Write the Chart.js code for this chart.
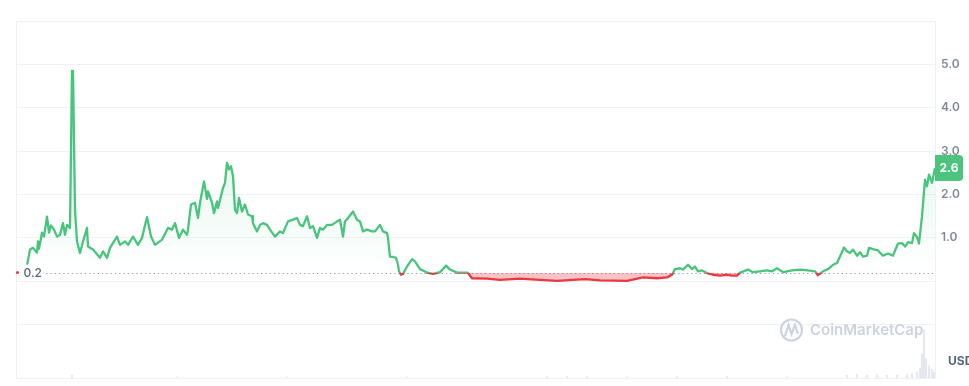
<!DOCTYPE html>
<html>
<head>
<meta charset="utf-8">
<script src="https://cdn.jsdelivr.net/npm/chart.js@4.4.1/dist/chart.umd.min.js"></script>
<style>
  html, body { margin: 0; padding: 0; background: #ffffff; }
  #wrap { position: relative; width: 969px; height: 386px; }
</style>
</head>
<body>
<div id="wrap"><canvas id="c" width="969" height="386"></canvas></div>
<script>
// ---- data ----
const days = [0,3,6,10,11,12,15,17,20,22,24,27,30,33,36,38,40,43,45,46,48,50,53,56,60,61,66,73,76,80,83,90,93,98,101,106,111,115,120,124,128,135,141,145,148,152,156,160,161,164,168,171,173,177,180,181,185,187,190,191,196,198,200,202,204,206,208,210,212,215,218,221,225,226,230,233,236,240,243,248,253,256,261,266,270,273,276,280,283,286,290,293,296,300,305,310,313,316,318,321,326,330,333,336,340,345,348,353,356,360,361,363,366,369,371,372,374,376,380,385,388,393,400,406,413,419,423,430,440,441,445,460,473,493,513,530,558,573,600,616,630,640,645,648,653,656,661,665,668,671,675,680,686,693,700,705,710,713,721,726,733,740,745,750,756,765,773,781,788,791,796,801,806,810,813,817,820,823,826,830,833,836,840,842,846,851,856,861,866,871,875,878,881,885,887,890,892,895,898,900,902,905,908];
const prices = [0.36,0.73,0.77,0.66,0.92,0.75,1.12,1.03,1.49,1.12,1.29,1.19,1.03,1.07,1.34,1.07,1.30,1.23,4.85,4.85,1.65,0.92,0.65,0.92,1.23,0.80,0.73,0.54,0.69,0.54,0.77,1.03,0.84,0.92,0.84,1.03,0.84,1.00,1.48,1.03,0.84,0.96,1.23,1.19,1.34,1.00,1.19,1.07,1.19,1.77,1.81,1.46,1.81,2.30,1.90,2.07,1.81,1.57,1.84,1.69,2.15,2.27,2.73,2.58,2.65,2.42,1.65,1.57,1.92,1.61,1.77,1.54,1.50,1.34,1.15,1.30,1.34,1.30,1.19,1.03,1.15,1.11,1.38,1.42,1.46,1.30,1.27,1.50,1.23,1.27,1.00,1.23,1.19,1.30,1.30,1.38,1.42,1.03,1.38,1.46,1.61,1.42,1.38,1.15,1.19,1.15,1.15,1.30,1.15,1.11,1.00,0.57,0.56,0.54,0.38,0.23,0.15,0.17,0.34,0.51,0.46,0.28,0.20,0.17,0.21,0.36,0.27,0.20,0.20,0.19,0.07,0.06,0.03,0.06,0.03,0.01,0.05,0.02,0.01,0.09,0.07,0.09,0.15,0.28,0.30,0.27,0.38,0.28,0.34,0.23,0.25,0.19,0.15,0.13,0.15,0.13,0.13,0.20,0.27,0.21,0.23,0.25,0.23,0.30,0.21,0.25,0.27,0.25,0.23,0.14,0.23,0.28,0.38,0.42,0.57,0.78,0.69,0.65,0.73,0.59,0.67,0.57,0.59,0.77,0.74,0.71,0.59,0.64,0.59,0.87,0.88,0.80,0.90,0.88,1.11,1.02,0.87,1.50,2.34,2.19,2.46,2.27,2.61];
const volDays = [45,150,260,380,520,540,560,600,650,700,760,820,830,840,850,860,870,880,885,890,893,895,897,899,902,905,907];
const volumes = [6,2,2,2,3,4,3,2,3,3,2,5,8,6,7,5,6,7,9,12,20,50,100,40,25,18,12];
const yTickLabels = ['1.0','2.0','3.0','4.0','5.0'];
const basePrice = 0.2;
const basePriceLabel = '0.2';
const lastPriceLabel = '2.6';
const currency = 'USD';
const watermark = 'CoinMarketCap';

const GREEN = '#48c47c';
const RED = '#ea3943';
const GRID = '#eff2f5';

const pricePoints = days.map((d, i) => ({ x: d, y: prices[i] }));
const volPoints = volDays.map((d, i) => ({ x: d, y: volumes[i] }));

function splitGradient(chart, topColor, midTop, midBottom, bottomColor) {
  const area = chart.chartArea;
  if (!area) return topColor;
  const yb = chart.scales.y.getPixelForValue(basePrice);
  const t = Math.min(1, Math.max(0, (yb - area.top) / (area.bottom - area.top)));
  const g = chart.ctx.createLinearGradient(0, area.top, 0, area.bottom);
  g.addColorStop(0, topColor);
  g.addColorStop(t, midTop);
  g.addColorStop(t, midBottom);
  g.addColorStop(1, bottomColor);
  return g;
}

const decor = {
  id: 'decor',
  beforeDatasetsDraw(chart) {
    const { ctx, chartArea: a } = chart;
    const y = chart.scales.y;
    ctx.save();
    // frame
    ctx.strokeStyle = GRID;
    ctx.lineWidth = 1;
    ctx.strokeRect(Math.round(a.left) + 0.5, Math.round(a.top) + 0.5, Math.round(a.right - a.left), Math.round(a.bottom - a.top));
    // watermark
    ctx.strokeStyle = '#cdd3df';
    ctx.fillStyle = '#cdd3df';
    ctx.lineWidth = 2.2;
    ctx.beginPath();
    ctx.arc(791.5, 330, 10.5, 0, Math.PI * 2);
    ctx.stroke();
    ctx.beginPath();
    ctx.moveTo(785, 336);
    ctx.lineTo(788.5, 325);
    ctx.lineTo(791.5, 334);
    ctx.lineTo(795, 325);
    ctx.lineTo(798, 334);
    ctx.stroke();
    ctx.font = '600 15px Inter, "Noto Sans", sans-serif';
    ctx.textBaseline = 'middle';
    ctx.textAlign = 'left';
    ctx.fillText(watermark, 810, 330);
    // dotted base line
    const yb = Math.round(y.getPixelForValue(basePrice)) + 0.5;
    ctx.strokeStyle = '#98a1b3';
    ctx.lineWidth = 1;
    ctx.setLineDash([1.3, 3]);
    ctx.beginPath();
    ctx.moveTo(a.left, yb);
    ctx.lineTo(a.right, yb);
    ctx.stroke();
    ctx.restore();
  },
  afterDatasetsDraw(chart) {
    const { ctx, chartArea: a } = chart;
    const y = chart.scales.y;
    ctx.save();
    const yb = y.getPixelForValue(basePrice);
    // base price label
    ctx.fillStyle = '#ffffff';
    ctx.fillRect(a.left + 1, yb - 8, 26, 16);
    ctx.fillStyle = RED;
    ctx.beginPath();
    ctx.arc(a.left + 1.5, yb, 1.5, 0, Math.PI * 2);
    ctx.fill();
    ctx.font = '500 12px Inter, "Noto Sans", sans-serif';
    ctx.fillStyle = '#58667e';
    ctx.textAlign = 'left';
    ctx.textBaseline = 'middle';
    ctx.fillText(basePriceLabel, a.left + 7.5, yb + 1);
    // last price box
    const yl = y.getPixelForValue(prices[prices.length - 1]);
    const bx = a.right, bw = 28, bh = 26;
    ctx.fillStyle = '#4cc47e';
    ctx.beginPath();
    ctx.roundRect(bx, yl - bh / 2, bw, bh, [0, 4, 4, 0]);
    ctx.fill();
    ctx.fillStyle = '#ffffff';
    ctx.font = '700 12px Inter, "Noto Sans", sans-serif';
    ctx.textAlign = 'center';
    ctx.fillText(lastPriceLabel, bx + bw / 2, yl + 0.5);
    // currency
    ctx.fillStyle = '#58667e';
    ctx.font = '700 12px Inter, "Noto Sans", sans-serif';
    ctx.textAlign = 'left';
    ctx.fillText(currency, 948, 361);
    ctx.restore();
  }
};

new Chart(document.getElementById('c'), {
  type: 'line',
  data: {
    datasets: [
      {
        type: 'line',
        data: pricePoints,
        yAxisID: 'y',
        borderWidth: 2.3,
        pointRadius: 0,
        tension: 0,
        borderJoinStyle: 'round',
        borderColor: (c) => splitGradient(c.chart, GREEN, GREEN, RED, RED),
        backgroundColor: (c) => splitGradient(c.chart, 'rgba(40,190,110,0.24)', 'rgba(40,190,110,0.0)', 'rgba(234,57,67,0.30)', 'rgba(234,57,67,0.30)'),
        fill: { target: { value: basePrice } },
        order: 1
      },
      {
        type: 'bar',
        data: volPoints,
        yAxisID: 'yv',
        backgroundColor: 'rgba(205,211,223,0.5)',
        barThickness: 1.5,
        order: 2
      }
    ]
  },
  options: {
    responsive: false,
    animation: false,
    events: [],
    layout: { padding: { left: 16, top: 21, right: 0, bottom: 8 } },
    plugins: { legend: { display: false }, tooltip: { enabled: false } },
    scales: {
      x: {
        type: 'linear',
        min: -11,
        max: 908,
        offset: false,
        display: false
      },
      y: {
        position: 'right',
        min: -2.23,
        max: 6,
        afterFit(s) { s.width = 34; s.paddingTop = 0; s.paddingBottom = 0; },
        afterBuildTicks(s) {
          const vals = [-1, 0, 1, 2, 3, 4, 5, 6];
          s.ticks = vals.map(v => ({ value: v }));
        },
        border: { display: false },
        grid: {
          drawTicks: false,
          color: (c) => (c.tick && c.tick.value >= -1 && c.tick.value <= 5) ? GRID : 'rgba(0,0,0,0)'
        },
        ticks: {
          padding: 6,
          color: '#808a9d',
          font: { family: 'Inter', size: 12, weight: '600' },
          callback: (v) => {
            const i = Math.round(v) - 1;
            return (Number.isInteger(v) && i >= 0 && i < yTickLabels.length) ? yTickLabels[i] : '';
          }
        }
      },
      yv: {
        display: false,
        min: 0,
        max: 740
      }
    }
  },
  plugins: [decor]
});
</script>
</body>
</html>
